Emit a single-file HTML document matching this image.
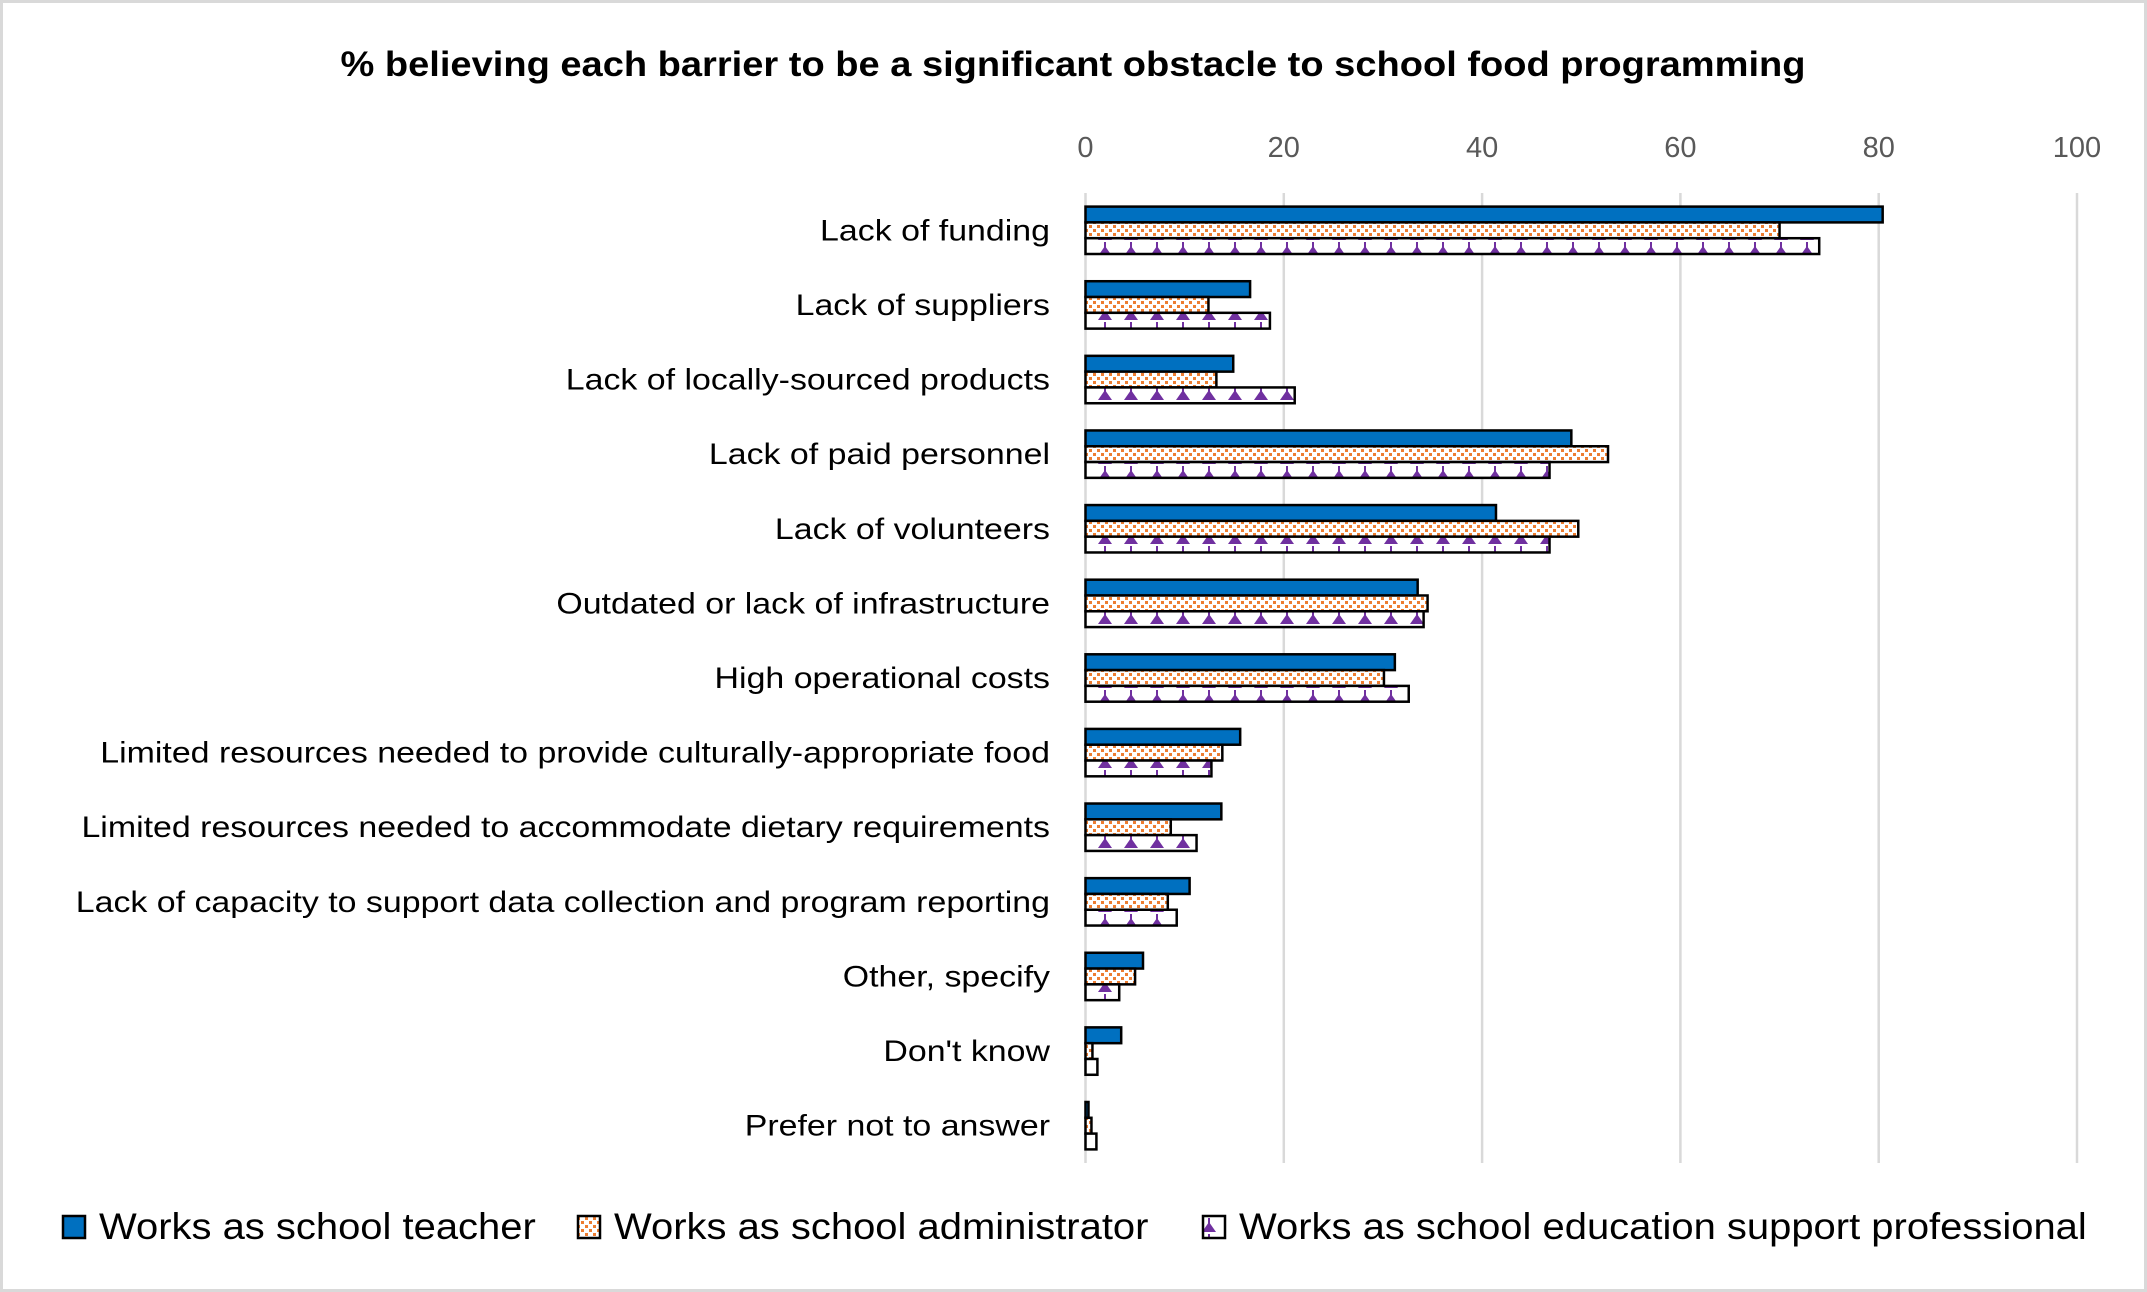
<!DOCTYPE html>
<html><head><meta charset="utf-8">
<style>html,body{margin:0;padding:0;background:#fff}svg{display:block}</style>
</head><body>
<svg id="chart" width="2147" height="1292" viewBox="0 0 2147 1292" xmlns="http://www.w3.org/2000/svg" font-family="Liberation Sans, sans-serif">
<defs>
<pattern id="dots" width="8" height="8" patternUnits="userSpaceOnUse">
<rect width="8" height="8" fill="#fff"/><rect x="1" y="1" width="3" height="3" fill="#ed7d31"/><rect x="5" y="5" width="3" height="3" fill="#ed7d31"/>
</pattern>
<pattern id="tri" width="26" height="16" patternUnits="userSpaceOnUse">
<rect width="26" height="16" fill="#fff"/><polygon points="6,16 13,6 20,16" fill="#7030a0"/><rect x="12" y="2" width="2" height="6" fill="#7030a0"/>
</pattern>
</defs>
<rect x="1.5" y="1.5" width="2144" height="1289" fill="#fff" stroke="#d9d9d9" stroke-width="3"/>
<text x="1073" y="76" text-anchor="middle" font-size="35" font-weight="bold" textLength="1465" lengthAdjust="spacingAndGlyphs">% believing each barrier to be a significant obstacle to school food programming</text>
<g id="grid"></g><g id="bars"></g><g id="labels"></g><g id="legend"></g>
</svg>
<script>
const categories = ["Lack of funding","Lack of suppliers","Lack of locally-sourced products","Lack of paid personnel","Lack of volunteers","Outdated or lack of infrastructure","High operational costs","Limited resources needed to provide culturally-appropriate food","Limited resources needed to accommodate  dietary requirements","Lack of capacity to support data collection and program reporting","Other, specify","Don't know","Prefer not to answer"];
const teacher = [80.4,16.6,14.9,49,41.4,33.5,31.2,15.6,13.7,10.5,5.8,3.6,0.3];
const admin = [70,12.4,13.2,52.7,49.7,34.5,30.1,13.8,8.6,8.3,5,0.7,0.6];
const support = [74,18.6,21.1,46.8,46.8,34.1,32.6,12.7,11.2,9.2,3.4,1.2,1.1];
const ticks = [0,20,40,60,80,100];
const seriesNames = ["Works as school teacher","Works as school administrator","Works as school education support professional"];

const NS="http://www.w3.org/2000/svg";
const X0=1085.5, X1=2077, Y0=193, Y1=1163;
const xs=v=>X0+(v/100)*(X1-X0);
const band=(Y1-Y0)/categories.length;
function mk(tag,attrs,parent){const e=document.createElementNS(NS,tag);for(const k in attrs)e.setAttribute(k,attrs[k]);parent.appendChild(e);return e;}
function stretch(t,f){const w=t.getComputedTextLength();t.setAttribute('textLength',w*f);t.setAttribute('lengthAdjust','spacingAndGlyphs');}
const grid=document.getElementById('grid'),bars=document.getElementById('bars'),labels=document.getElementById('labels'),legend=document.getElementById('legend');
ticks.forEach(t=>{
  const l=mk('line',{x1:xs(t),x2:xs(t),y1:Y0,y2:Y1,stroke:'#d9d9d9','stroke-width':2.5},grid);
  
  
  const tx=mk('text',{x:xs(t),y:157,'text-anchor':'middle','font-size':29,fill:'#595959'},grid);
  tx.textContent=t;
  
  
});
const fills=['#0070c0','url(#dots)','url(#tri)'];
const series=[teacher,admin,support];
const bh=15.8;
categories.forEach((c,i)=>{
  const cy=Y0+band*(i+0.5);
  const lb=mk('text',{x:1050,y:cy+10,'text-anchor':'end','font-size':30,fill:'#000','xml:space':'preserve'},labels);
  lb.textContent=c;
  
  
  stretch(lb,1.13);
  series.forEach((s,j)=>{
    const y=cy-1.5*bh+j*bh;
    const r=mk('rect',{x:X0,y:y,width:Math.max(0.5,xs(s[i])-X0),height:bh,fill:fills[j],stroke:'#000','stroke-width':2.5},bars);
    
    
  });
});
const lx=[63,578,1203];
seriesNames.forEach((n,j)=>{
  const r=mk('rect',{x:lx[j],y:1216,width:22,height:22,fill:fills[j],stroke:'#000','stroke-width':2.5},legend);
  
  
  const t=mk('text',{x:lx[j]+36,y:1239,'font-size':37,fill:'#000'},legend);
  t.textContent=n;
  
  
  stretch(t,1.08);
});
</script>
</body></html>
